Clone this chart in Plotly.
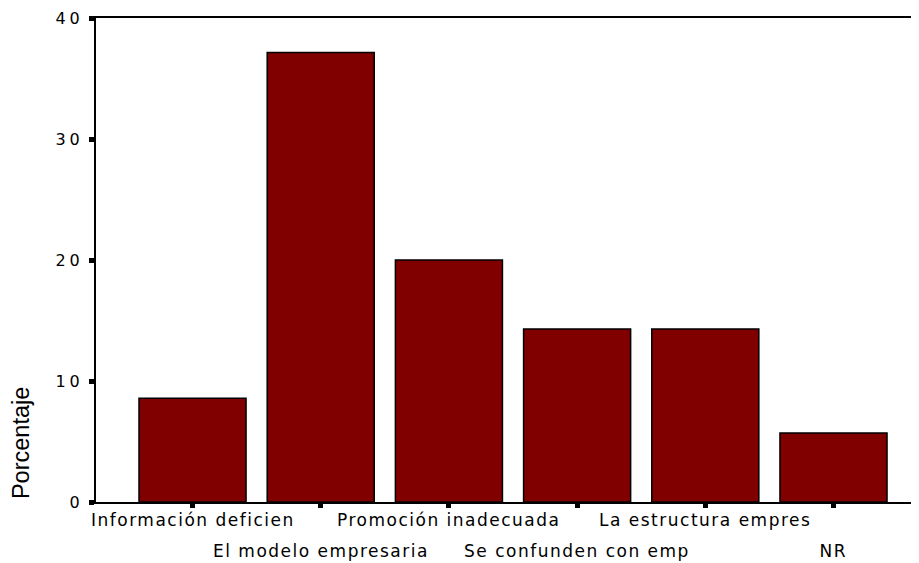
import plotly.graph_objects as go

# ---- Data ----
categories = ["Información deficien", "El modelo empresaria", "Promoción inadecuada",
              "Se confunden con emp", "La estructura empres", "NR"]
porcentaje = [8.57, 37.14, 20.0, 14.29, 14.29, 5.71]
y_ticks = [0, 10, 20, 30, 40]

LABEL_FONT = "DejaVu Sans, sans-serif"
TITLE_FONT = "Liberation Sans, Arial, sans-serif"

fig = go.Figure(go.Bar(
    x=list(range(len(categories))),
    y=porcentaje,
    marker=dict(color="#800000", line=dict(color="black", width=1.5)),
    hoverinfo="skip",
))

# staggered category labels (two rows, like the original)
annotations = []
for i, cat in enumerate(categories):
    annotations.append(dict(
        x=i, xref="x", y=-0.037 if i % 2 == 0 else -0.101, yref="paper",
        text=cat, showarrow=False, xanchor="center", yanchor="middle",
        font=dict(family=LABEL_FONT, size=17, color="black"),
    ))

# y axis title, sitting low beside the axis
annotations.append(dict(
    x=-0.091, xref="paper", y=0.122, yref="paper", text="Porcentaje",
    textangle=-90, showarrow=False, xanchor="center", yanchor="middle",
    font=dict(family=TITLE_FONT, size=23.5, color="black"),
))

# page body has an 8px margin, so the figure is shrunk/shifted to fit the window
fig.update_layout(
    width=911, height=555,
    margin=dict(l=88, r=0, t=10, b=61),
    plot_bgcolor="white", paper_bgcolor="white",
    bargap=0.165,
    showlegend=False,
    annotations=annotations,
    font=dict(family=LABEL_FONT, color="black"),
)
fig.update_xaxes(
    range=[-0.753, 5.667], showgrid=False, zeroline=False,
    showline=True, linecolor="black", linewidth=2, mirror=True,
    tickvals=list(range(len(categories))), showticklabels=False,
    ticks="outside", ticklen=4, tickwidth=5, tickcolor="black",
)
fig.update_yaxes(
    range=[0, 40], showgrid=False, zeroline=False,
    showline=True, linecolor="black", linewidth=2,
    tickvals=y_ticks, ticks="outside", ticklen=5, tickwidth=5, tickcolor="black",
    tickfont=dict(family=LABEL_FONT, size=16, color="black"),
    ticklabelstandoff=2,
)

# wide letter spacing of the original SPSS labels
post = """
function spread(){
  document.querySelectorAll('.annotation-text').forEach(function(t){
    if (t.textContent !== 'Porcentaje') t.style.letterSpacing = '1.5px';
  });
  document.querySelectorAll('.ytick text').forEach(function(t){
    t.style.letterSpacing = '4px';
  });
}
spread();
var gd = document.getElementById('{plot_id}');
gd.on('plotly_afterplot', spread);
"""

fig.write_html("out.html", post_script=post)
